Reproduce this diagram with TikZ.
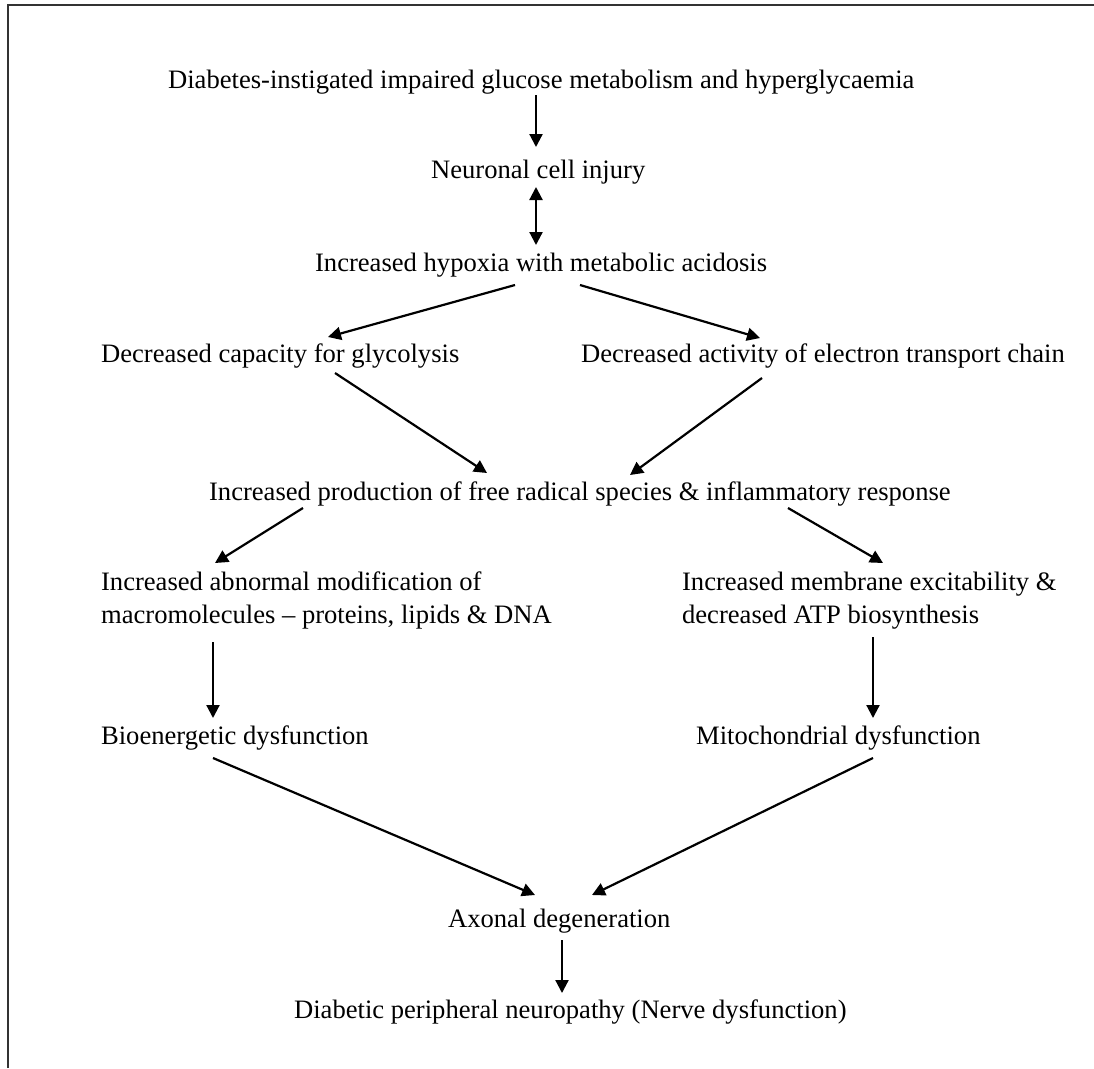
\documentclass[tikz,border=0pt]{standalone}
\usepackage{fontspec}
\setmainfont{Liberation Serif}
\usetikzlibrary{arrows.meta,calc}
\tikzset{txt/.style={inner sep=0pt, anchor=base west, font=\fontsize{26.6}{33}\selectfont},
  twoline/.style={txt, anchor=north west, align=left}}
\begin{document}
\begin{tikzpicture}[x=1pt, y=-1pt, >={Triangle[length=13pt,width=13pt]}, line width=2.2pt]
\useasboundingbox (0,0) rectangle (1094,1068);
\draw[line width=1.5pt, black!80](8,1068)--(8,5)--(1094,5);
% the chain, top to bottom
\node[txt] (t1) at (167,88) {Diabetes-instigated impaired glucose metabolism and hyperglycaemia};
\node[txt] (t2) at (430,178) {Neuronal cell injury};
\node[txt] (t3) at (314,271) {Increased hypoxia with metabolic acidosis};
\node[txt] (t4) at (100,362) {Decreased capacity for glycolysis};
\node[txt] (t5) at (580,362) {Decreased activity of electron transport chain};
\node[txt] (t6) at (208,500) {Increased production of free radical species \& inflammatory response};
\node[twoline] (t7) at (100,571) {Increased abnormal modification of\\macromolecules -- proteins, lipids \& DNA};
\node[twoline] (t8) at (681,571) {Increased membrane excitability \&\\decreased ATP biosynthesis};
\node[txt] (t9) at (100,744) {Bioenergetic dysfunction};
\node[txt] (t10) at (695,744) {Mitochondrial dysfunction};
\node[txt] (t11) at (447,927) {Axonal degeneration};
\node[txt] (t12) at (293,1018) {Diabetic peripheral neuropathy (Nerve dysfunction)};
% arrows
\draw[->]($(t1.base west)+(369,7)$)--($(t2.base west)+(106,-31)$);
\draw[<->]($(t2.base west)+(106,9)$)--($(t3.base west)+(222,-26)$);
\draw[->]($(t3.base west)+(201,14)$)--($(t4.base west)+(228,-25)$);
\draw[->]($(t3.base west)+(266,14)$)--($(t5.base west)+(180,-24)$);
\draw[->]($(t4.base west)+(235,11)$)--($(t6.base west)+(279,-27)$);
\draw[->]($(t5.base west)+(182,16)$)--($(t6.base west)+(422,-25)$);
\draw[->]($(t6.base west)+(95,8)$)--($(t7.north west)+(115,-8)$);
\draw[->]($(t6.base west)+(580,8)$)--($(t8.north west)+(202,-8)$);
\draw[->]($(t7.north west)+(113,71)$)--($(t9.base west)+(113,-26)$);
\draw[->]($(t8.north west)+(192,66)$)--($(t10.base west)+(178,-26)$);
\draw[->]($(t9.base west)+(113,14)$)--($(t11.base west)+(88,-32)$);
\draw[->]($(t10.base west)+(178,14)$)--($(t11.base west)+(145,-32)$);
\draw[->]($(t11.base west)+(115,13)$)--($(t12.base west)+(269,-25)$);
\end{tikzpicture}
\end{document}
